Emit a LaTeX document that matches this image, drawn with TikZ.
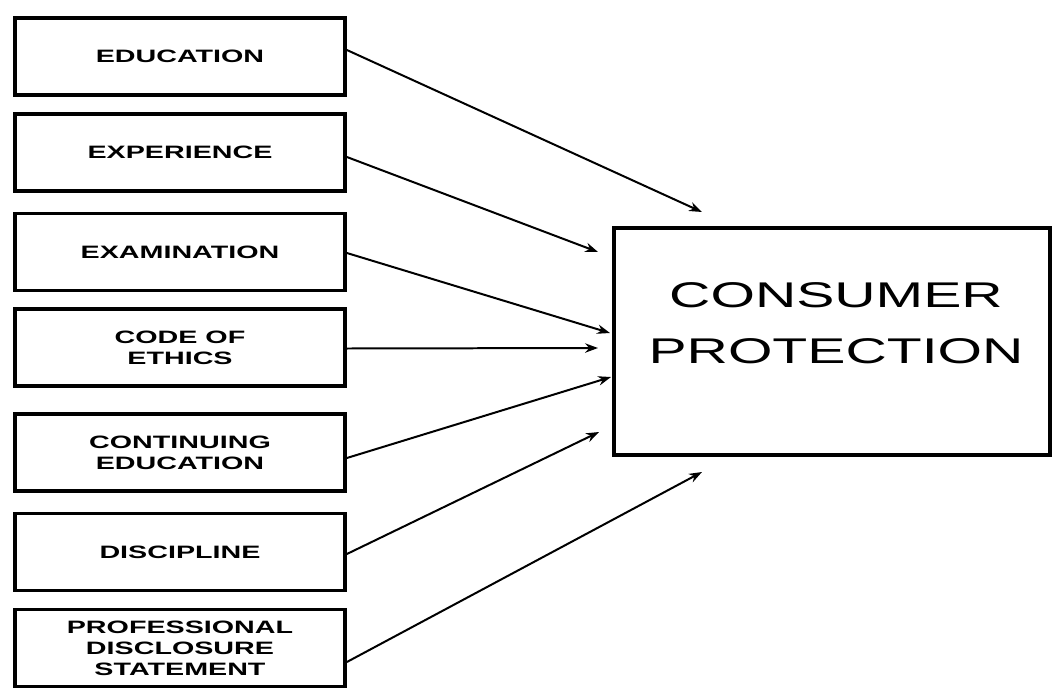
\documentclass[tikz,border=0pt]{standalone}
\usepackage{fontspec}
\setmainfont{Liberation Sans}[FakeStretch=1.6]
\usetikzlibrary{arrows.meta}
\begin{document}
\begin{tikzpicture}
[x=0.03cm,y=-0.03cm,
  arrowDecorate/.style={->,>={Stealth[length=11pt,width=8pt]},line width=1.7pt},%
  boxDecorate/.style={shape=rectangle,draw,line width=3.2pt,inner sep=0pt,
    minimum width=9.9cm,minimum height=2.31cm,align=center,
    font=\bfseries\fontsize{15.3}{17.9}\selectfont},%
  bigDecorate/.style={shape=rectangle,draw,line width=3.6pt,
    minimum width=13.08cm,minimum height=6.81cm}]
\useasboundingbox (0,0) rectangle (1056,693);
%% factor boxes
\foreach \nodename/\y/\txt in {
  edu/56.5/{EDUCATION}, exp/152.5/{EXPERIENCE}, exam/252/{EXAMINATION},
  ethics/347.5/{CODE OF\\ETHICS}, contedu/452.5/{CONTINUING\\EDUCATION},
  disc/552/{DISCIPLINE}, pds/648/{PROFESSIONAL\\DISCLOSURE\\STATEMENT}}
{
  \node (\nodename) at (180,\y) [boxDecorate] {\txt};
}
%% consumer protection
\node (cp) at (832,341.5) [bigDecorate] {};
\node (cptext) at (836,323) [align=center,font=\fontsize{30.5}{47.6}\selectfont]
  {CONSUMER\\PROTECTION};
%% free ends of the arrows
\foreach \endname/\x/\y in {
  e1/702/212, e2/598/252, e3/610/333, e4/598/348,
  e5/611/377, e6/599/432, e7/702/472}
{
  \coordinate (\endname) at (\x,\y);
}
%% arrows
\path
\foreach \startnode/\dy/\endnode in {
  edu/-6.5/e1, exp/4.5/e2, exam/1/e3, ethics/1/e4,
  contedu/5.5/e5, disc/2/e6, pds/14/e7}
{
  ([shift={(0,\dy)}]\startnode.east) edge[arrowDecorate] (\endnode)
};
\end{tikzpicture}
\end{document}
